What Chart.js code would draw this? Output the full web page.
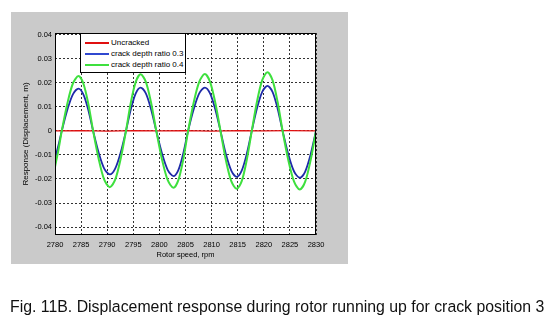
<!DOCTYPE html>
<html><head><meta charset="utf-8">
<script src="https://cdn.jsdelivr.net/npm/chart.js@4.4.1/dist/chart.umd.min.js"></script>
<style>
html,body{margin:0;padding:0;background:#fff;width:558px;height:328px;overflow:hidden;}
#wrap{position:relative;width:558px;height:328px;}
canvas{position:absolute;left:0;top:0;}
#legend{position:absolute;left:80px;top:33px;width:104px;height:38px;background:#fff;border:1px solid #000;font-family:"Liberation Sans",Arial,sans-serif;font-size:8px;color:#000;}
#legend .row{position:absolute;left:0;height:11px;line-height:11px;white-space:nowrap;}
#legend .sw{position:absolute;left:4px;top:5px;width:24px;height:2px;}
#legend .tx{position:absolute;left:30px;top:0;}
#caption{position:absolute;left:10px;top:299px;font-family:"Liberation Sans",Arial,sans-serif;font-size:15.85px;line-height:16px;color:#111;white-space:nowrap;}
</style></head>
<body><div id="wrap"><canvas id="c" width="558" height="328"></canvas><div id="legend"></div>
<div id="caption">Fig. 11B. Displacement response during rotor running up for crack position 3</div></div>
<script>
const xTicks = [2780, 2785, 2790, 2795, 2800, 2805, 2810, 2815, 2820, 2825, 2830];
const yTicks = [-0.04, -0.03, -0.02, -0.01, 0, 0.01, 0.02, 0.03, 0.04];
const seriesNames = ["Uncracked", "crack depth ratio 0.3", "crack depth ratio 0.4"];
const speeds = [2780, 2780.65, 2781.3, 2782.37, 2783.43, 2784.5, 2785.43, 2786.37, 2787.3, 2788.37, 2789.43, 2790.5, 2791.53, 2792.57, 2793.6, 2794.53, 2795.47, 2796.4, 2797.4, 2798.4, 2799.4, 2800.5, 2801.6, 2802.7, 2803.63, 2804.57, 2805.5, 2806.57, 2807.63, 2808.7, 2809.7, 2810.7, 2811.7, 2812.73, 2813.77, 2814.8, 2815.77, 2816.73, 2817.7, 2818.7, 2819.7, 2820.7, 2821.67, 2822.63, 2823.6, 2824.7, 2825.8, 2826.9, 2827.93, 2828.97, 2830];
const ratio04 = [-0.0150, -0.0080, 0, 0.0114, 0.0197, 0.0228, 0.0197, 0.0114, 0, -0.0117, -0.0203, -0.0234, -0.0203, -0.0117, 0, 0.0118, 0.0204, 0.0235, 0.0204, 0.0118, 0, -0.0119, -0.0205, -0.0237, -0.0205, -0.0119, 0, 0.0118, 0.0204, 0.0236, 0.0204, 0.0118, 0, -0.0121, -0.0209, -0.0241, -0.0209, -0.0121, 0, 0.0122, 0.0211, 0.0244, 0.0211, 0.0122, 0, -0.0122, -0.0211, -0.0244, -0.0211, -0.0122, 0];
const ratio03 = [-0.0115, -0.0061, 0, 0.0088, 0.0152, 0.0176, 0.0152, 0.0088, 0, -0.0091, -0.0157, -0.0181, -0.0157, -0.0091, 0, 0.0090, 0.0156, 0.0180, 0.0156, 0.0090, 0, -0.0094, -0.0163, -0.0188, -0.0163, -0.0094, 0, 0.0090, 0.0156, 0.0180, 0.0156, 0.0090, 0, -0.0096, -0.0165, -0.0191, -0.0165, -0.0096, 0, 0.0094, 0.0162, 0.0187, 0.0162, 0.0094, 0, -0.0098, -0.0169, -0.0195, -0.0169, -0.0098, 0];
const redSpeeds = [2780, 2785, 2790, 2795, 2800, 2805, 2810, 2815, 2820, 2825, 2830];
const uncracked = [0, 0.0001, -0.0001, 0.0001, 0, 0.0001, -0.0001, 0.0001, 0, 0.0001, 0];
const colors = ["#e01010", "#1e2aa8", "#3ee03e"];
const legendColors = ["#e01010", "#3048d0", "#3ee03e"];

const toXY = (xs, ys) => xs.map((x, i) => ({x: x, y: ys[i]}));
const axisFont = {family: "'Liberation Sans',Arial,sans-serif", size: 7.5};

const bgPlugin = {
  id: 'bg',
  beforeDraw(chart) {
    const ctx = chart.ctx, a = chart.chartArea;
    ctx.save();
    ctx.fillStyle = '#cacaca';
    ctx.fillRect(11, 12, 337, 252);
    ctx.fillStyle = '#ffffff';
    ctx.fillRect(a.left, a.top, a.right - a.left, a.bottom - a.top);
    ctx.restore();
  },
  afterDraw(chart) {
    const ctx = chart.ctx, a = chart.chartArea;
    ctx.save();
    ctx.strokeStyle = '#000';
    ctx.lineWidth = 1;
    ctx.strokeRect(Math.round(a.left) + 0.5, Math.round(a.top) + 0.5, Math.round(a.right - a.left) - 1, Math.round(a.bottom - a.top) - 1);
    ctx.restore();
  }
};

const chart = new Chart(document.getElementById('c'), {
  type: 'line',
  data: {
    datasets: [
      {label: seriesNames[0], data: toXY(redSpeeds, uncracked), borderColor: colors[0], borderWidth: 1.2, pointRadius: 0, tension: 0, order: 2},
      {label: seriesNames[1], data: toXY(speeds, ratio03), borderColor: colors[1], borderWidth: 1.8, pointRadius: 0, tension: 0.3, order: 1},
      {label: seriesNames[2], data: toXY(speeds, ratio04), borderColor: colors[2], borderWidth: 2, pointRadius: 0, tension: 0.3, order: 0}
    ]
  },
  options: {
    responsive: false,
    animation: false,
    devicePixelRatio: 1,
    layout: {padding: {left: 11, top: 33, right: 242, bottom: 64}},
    plugins: {legend: {display: false}, tooltip: {enabled: false}},
    scales: {
      x: {
        type: 'linear', min: 2780, max: 2830,
        afterBuildTicks: (s) => { s.ticks = xTicks.map(v => ({value: v})); },
        afterFit: (s) => { s.height = 29; },
        grid: {color: '#333', drawTicks: false, lineWidth: 1},
        border: {display: false, dash: [2, 2]},
        ticks: {font: axisFont, color: '#000', padding: 5, maxRotation: 0, autoSkip: false, callback: (v) => String(v)},
        title: {display: true, text: 'Rotor speed, rpm', font: axisFont, color: '#000', padding: {top: 0, bottom: 5}}
      },
      y: {
        type: 'linear', min: -0.0433, max: 0.0407,
        afterBuildTicks: (s) => { s.ticks = yTicks.map(v => ({value: v})); },
        afterFit: (s) => { s.width = 44; },
        grid: {color: '#333', drawTicks: false, lineWidth: 1},
        border: {display: false, dash: [2, 2]},
        ticks: {font: axisFont, color: '#000', padding: 3, autoSkip: false, callback: (v) => String(v)},
        title: {display: true, text: 'Response (Displacement, m)', font: {family: "'Liberation Sans',Arial,sans-serif", size: 8}, color: '#000', padding: {top: 10, bottom: 0}}
      }
    }
  },
  plugins: [bgPlugin]
});

const lg = document.getElementById('legend');
seriesNames.forEach((n, i) => {
  const r = document.createElement('div');
  r.className = 'row';
  r.style.top = (3 + i * 11) + 'px';
  r.style.width = '100%';
  r.innerHTML = '<span class="sw" style="background:' + legendColors[i] + '"></span><span class="tx">' + n + '</span>';
  lg.appendChild(r);
});
</script></body></html>
